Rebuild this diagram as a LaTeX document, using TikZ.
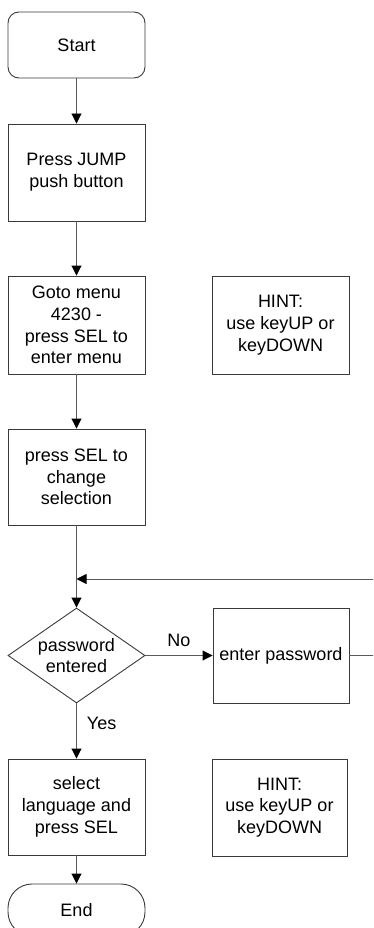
\documentclass[tikz,border=0pt]{standalone}
\usepackage{fontspec}
\setmainfont{Liberation Sans}
\usetikzlibrary{shapes.geometric,arrows.meta}
\definecolor{edgecol}{HTML}{5A5A5A}
\definecolor{boxcol}{HTML}{3A3A3A}
\tikzset{
  base/.style={draw=boxcol, line width=0.9pt, align=center, inner sep=2pt,
    font=\fontsize{18}{21.7}\selectfont, minimum width=137pt},
  procbox/.style={base, rectangle},
  startbox/.style={base, rectangle, rounded corners=11pt, minimum height=66pt},
  endbox/.style={base, rectangle, rounded corners=24pt, minimum height=52pt},
  decbox/.style={base, diamond, aspect=1.44, inner sep=0pt, minimum height=95pt},
  conn/.style={draw=edgecol, line width=0.9pt},
  arr/.style={conn, -{Triangle[length=10pt,width=10pt,color=black,fill=black]}},
  lbl/.style={font=\fontsize{18}{21.7}\selectfont, inner sep=0pt}
}
\begin{document}
\begin{tikzpicture}[x=1pt,y=-1pt]
\useasboundingbox (0,0) rectangle (373,928);
\clip (0,0) rectangle (373,928);
\node[startbox] (start) at (76.5,45) {Start};
\node[procbox, minimum height=97pt] (jump) at (76.5,172.5) {Press JUMP\\push button};
\node[procbox, minimum height=98pt] (goto) at (76.5,325) {Goto menu\\4230 -\\press SEL to\\enter menu};
\node[procbox, minimum height=98pt] (hint1) at (280.5,325) {HINT:\\use keyUP or\\keyDOWN};
\node[procbox, minimum height=96pt] (sel) at (76.5,477) {press SEL to\\change\\selection};
\node[decbox] (pw) at (76.5,655.5) {password\\entered};
\node[procbox, minimum height=95pt, minimum width=136pt] (enter) at (281,655.5) {enter password};
\node[procbox, minimum height=96pt] (lang) at (76.5,807) {select\\language and\\press SEL};
\node[procbox, minimum height=97pt, minimum width=135pt] (hint2) at (279.5,807.5) {HINT:\\use keyUP or\\keyDOWN};
\node[endbox] (end) at (76.5,910) {End};
\coordinate (join) at (76.5,579);
\coordinate (far) at (378,579);

\draw[arr] (start) -- (jump);
\draw[arr] (jump) -- (goto);
\draw[arr] (goto) -- (sel);
\draw[arr] (sel) -- (pw);
\draw[arr] (pw) -- node[lbl, above=8pt] {No} (enter);
\draw[arr] (pw) -- node[lbl, right=10pt, pos=0.37] {Yes} (lang);
\draw[arr] (lang) -- (end);
\draw[conn] (enter.east) -- (far |- enter.east) -- (far);
\draw[arr] (far) -- (join);
\end{tikzpicture}
\end{document}
